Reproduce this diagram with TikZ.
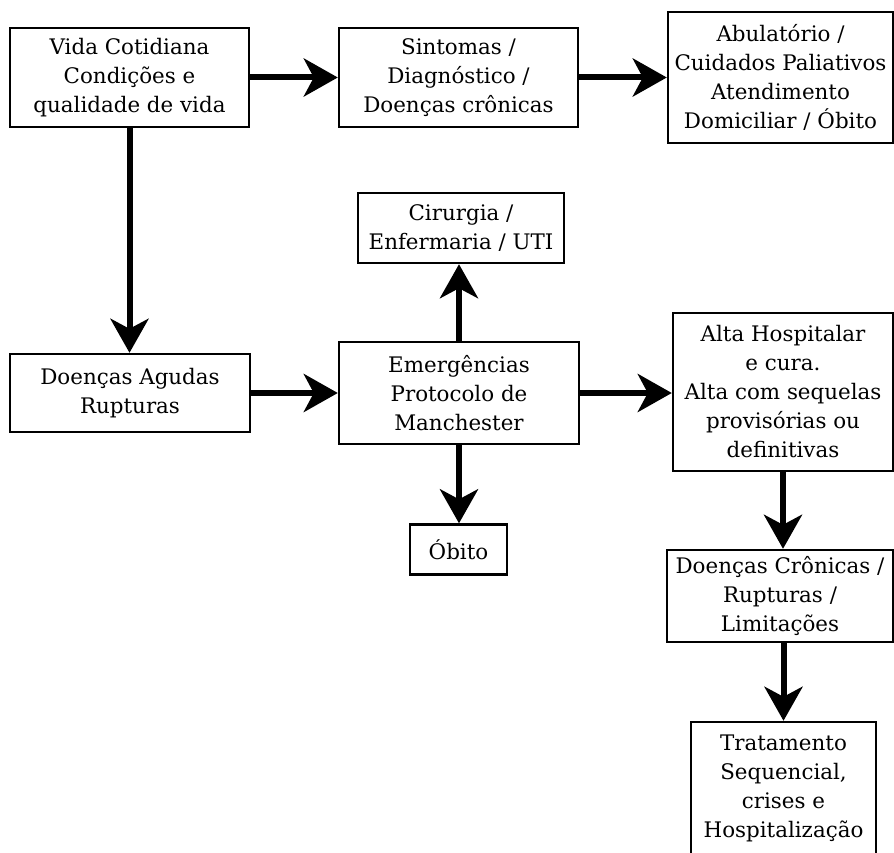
\documentclass[tikz,border=0pt]{standalone}
\usepackage{fontspec}
\setmainfont{DejaVu Serif}
\usepackage{tikz}
\usetikzlibrary{arrows.meta,positioning,calc}

\begin{document}
\begin{tikzpicture}[x=1pt,y=-1pt,
  stage/.style={draw,line width=2.4pt,align=center,inner sep=0pt,
    font=\fontsize{21.4}{29}\selectfont},
  flow/.style={line width=6pt,-{Stealth[length=34pt,width=38pt,inset=10pt]}}]

  % page frame
  \useasboundingbox (0,0) rectangle (894,853);

  % top row
  \node[stage,minimum width=239pt,minimum height=99pt] (vida) at (129.5,77.5)
    {Vida Cotidiana\\Condições e\\qualidade de vida};
  \node[stage,minimum width=239pt,minimum height=99pt] (sintomas) at (458.5,77.5)
    {Sintomas /\\Diagnóstico /\\Doenças crônicas};
  \node[stage,minimum width=225pt,minimum height=131pt] (abulat) at (780.5,77.5)
    {Abulatório /\\Cuidados Paliativos\\Atendimento\\Domiciliar / Óbito};

  % middle row
  \node[stage,minimum width=206pt,minimum height=70pt] (cirurgia) at (461,228)
    {Cirurgia /\\Enfermaria / UTI};
  \node[stage,minimum width=240pt,minimum height=78pt] (agudas) at (130,393)
    {Doenças Agudas\\Rupturas};
  \node[stage,minimum width=240pt,minimum height=102pt] (emerg) at (459,393)
    {Emergências\\Protocolo de\\Manchester};
  \node[stage,minimum width=220pt,minimum height=158pt] (alta) at (783,392)
    {Alta Hospitalar\\e cura.\\Alta com sequelas\\provisórias ou\\definitivas};
  \node[stage,minimum width=97pt,minimum height=50pt] (obito) at (458.5,549.5)
    {Óbito};

  % right column going down
  \node[stage,minimum width=226pt,minimum height=92pt] (cronicas) at (780,596)
    {Doenças Crônicas /\\Rupturas /\\Limitações};
  \node[stage,minimum width=185pt,minimum height=132pt] (tratam) at (783.5,788)
    {Tratamento\\Sequencial,\\crises e\\Hospitalização};

  % arrows
  \draw[flow] (vida) -- (sintomas);
  \draw[flow] (sintomas) -- (abulat);
  \draw[flow] (vida.south) -- (vida.south |- agudas.north);
  \draw[flow] (agudas) -- (emerg);
  \draw[flow] (emerg.north) -- (emerg.north |- cirurgia.south);
  \draw[flow] (emerg.south) -- (emerg.south |- obito.north);
  \draw[flow] (emerg.east) -- (emerg.east -| alta.west);
  \draw[flow] (alta.south) -- (alta.south |- cronicas.north);
  \draw[flow] (cronicas.south -| tratam.north) -- (tratam.north);

\end{tikzpicture}
\end{document}
